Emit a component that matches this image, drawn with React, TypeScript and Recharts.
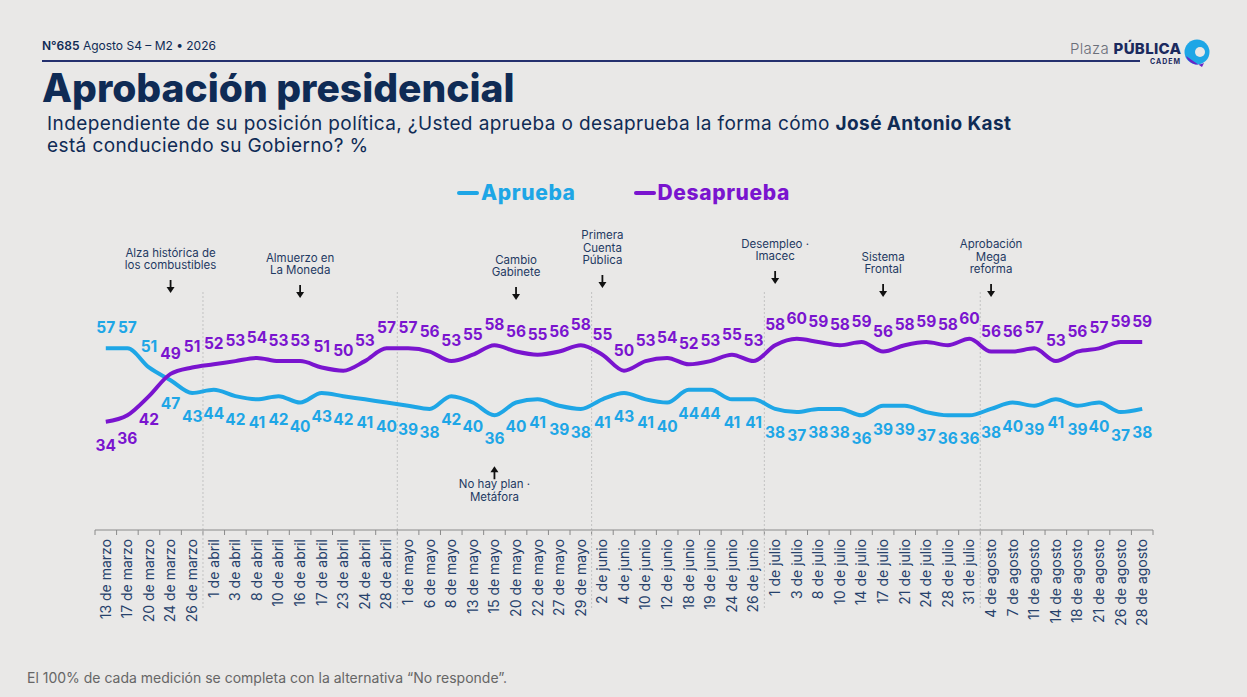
import React from 'react'
import { LineChart, Line, XAxis, YAxis, ReferenceLine, ReferenceDot, LabelList } from 'recharts'

const dates = [
  '13 de marzo', '17 de marzo', '20 de marzo', '24 de marzo', '26 de marzo',
  '1 de abril', '3 de abril', '8 de abril', '10 de abril', '16 de abril', '17 de abril', '23 de abril', '24 de abril', '28 de abril',
  '1 de mayo', '6 de mayo', '8 de mayo', '13 de mayo', '15 de mayo', '20 de mayo', '22 de mayo', '27 de mayo', '29 de mayo',
  '2 de junio', '4 de junio', '10 de junio', '12 de junio', '18 de junio', '19 de junio', '24 de junio', '26 de junio',
  '1 de julio', '3 de julio', '8 de julio', '10 de julio', '14 de julio', '17 de julio', '21 de julio', '24 de julio', '28 de julio', '31 de julio',
  '4 de agosto', '7 de agosto', '11 de agosto', '14 de agosto', '18 de agosto', '21 de agosto', '26 de agosto', '28 de agosto',
]

const aprueba = [
  57, 57, 51, 47, 43,
  44, 42, 41, 42, 40, 43, 42, 41, 40,
  39, 38, 42, 40, 36, 40, 41, 39, 38,
  41, 43, 41, 40, 44, 44, 41, 41,
  38, 37, 38, 38, 36, 39, 39, 37, 36, 36,
  38, 40, 39, 41, 39, 40, 37, 38,
]

const desaprueba = [
  34, 36, 42, 49, 51,
  52, 53, 54, 53, 53, 51, 50, 53, 57,
  57, 56, 53, 55, 58, 56, 55, 56, 58,
  55, 50, 53, 54, 52, 53, 55, 53,
  58, 60, 59, 58, 59, 56, 58, 59, 58, 60,
  56, 56, 57, 53, 56, 57, 59, 59,
]

// events marked above the lines (dy = nudge of the arrow tip in px)
const events = [
  { date: '24 de marzo', lines: ['Alza histórica de', 'los combustibles'], dy: 2 },
  { date: '16 de abril', lines: ['Almuerzo en', 'La Moneda'], dy: 7 },
  { date: '20 de mayo', lines: ['Cambio', 'Gabinete'], dy: 9 },
  { date: '2 de junio', lines: ['Primera', 'Cuenta', 'Pública'], dy: -3 },
  { date: '1 de julio', lines: ['Desempleo ·', 'Imacec'], dy: -7 },
  { date: '17 de julio', lines: ['Sistema', 'Frontal'], dy: 6 },
  { date: '4 de agosto', lines: ['Aprobación', 'Mega', 'reforma'], dy: 6 },
]

const eventBelow = { date: '15 de mayo', lines: ['No hay plan ·', 'Metáfora'] }

const data = dates.map((d, i) => ({ date: d, aprueba: aprueba[i], desaprueba: desaprueba[i] }))

const month = (d: string) => d.split(' de ')[1]
const monthStarts = dates.filter((d, i) => i > 0 && month(d) !== month(dates[i - 1]))

const BLUE = '#1ea6e6'
const PURPLE = '#7a14cf'
const NAVY = '#0f2b55'
const FONT = 'Inter, "Noto Sans", sans-serif'

const W = 1247
const H = 697
const M = { top: 291, right: 94, left: 95, bottom: 47 }
const AXIS_H = 120
const BAND = (W - M.left - M.right) / dates.length

function DateTick(props: any) {
  const { x, y, payload } = props
  const i = payload.index ?? props.index
  const half = payload.offset || BAND / 2
  const axisY = y - 8
  const isMonthStart = i > 0 && monthStarts.includes(payload.value)
  return (
    <g>
      <line x1={x - half} x2={x - half} y1={axisY} y2={axisY + 5} stroke="#8a8a8a" strokeWidth={1} />
      {i === dates.length - 1 && (
        <line x1={x + half} x2={x + half} y1={axisY} y2={axisY + 5} stroke="#8a8a8a" strokeWidth={1} />
      )}
      {isMonthStart && (
        <line x1={x - half} x2={x - half} y1={axisY} y2={axisY + 78} stroke="#c2c2c2" strokeDasharray="2 2" />
      )}
      <text
        x={x}
        y={y + 1}
        transform={`rotate(-90, ${x}, ${y + 1})`}
        textAnchor="end"
        dy="0.35em"
        fontSize={14}
        fontFamily={FONT}
        fill="#26416b"
      >
        {payload.value}
      </text>
    </g>
  )
}

const makeValueLabel = (color: string, aboveFirst: boolean) => (props: any) => {
  const { x, y, value, index } = props
  const above = index < 3 ? aboveFirst : !aboveFirst
  const ty = above ? y - 15 : y + 29
  return (
    <text x={x} y={ty} textAnchor="middle" fontSize={15.5} fontWeight={700} fontFamily={FONT} fill={color}>
      {value}
    </text>
  )
}

function Arrow({ x, tip, up }: { x: number; tip: number; up?: boolean }) {
  const s = up ? 1 : -1
  return (
    <g>
      <line x1={x} x2={x} y1={tip + s * 13} y2={tip + s * 5} stroke="#111" strokeWidth={1.8} />
      <path d={`M${x - 4},${tip + s * 6} L${x + 4},${tip + s * 6} L${x},${tip} Z`} fill="#111" />
    </g>
  )
}

const eventLabel = (lines: string[], dy: number) => (props: any) => {
  const vb = props.viewBox || {}
  const cx = vb.x + (vb.width || 0) / 2
  const tip = vb.y + (vb.height || 0) / 2 + dy
  const top = tip - 24 - (lines.length - 1) * 12.5
  return (
    <g>
      {lines.map((l, k) => (
        <text key={k} x={cx} y={top + k * 12.5} textAnchor="middle" fontSize={11.5} fontFamily={FONT} fill="#1f3a63">
          {l}
        </text>
      ))}
      <Arrow x={cx} tip={tip} />
    </g>
  )
}

const belowLabel = (lines: string[]) => (props: any) => {
  const vb = props.viewBox || {}
  const cx = vb.x + (vb.width || 0) / 2
  const tip = vb.y + (vb.height || 0) / 2
  return (
    <g>
      <Arrow x={cx} tip={tip} up />
      {lines.map((l, k) => (
        <text key={k} x={cx} y={tip + 22 + k * 12.5} textAnchor="middle" fontSize={11.5} fontFamily={FONT} fill="#1f3a63">
          {l}
        </text>
      ))}
    </g>
  )
}

function Logo() {
  return (
    <svg width={30} height={30} viewBox="0 0 30 30" style={{ position: 'absolute', left: 1182, top: 37 }}>
      <circle cx={15} cy={15} r={12.5} fill={BLUE} />
      <path d="M4,19 A12.5,12.5 0 0 0 22,26 L20,30 Q14,26 4,19 Z" fill="#6a22c6" />
      <circle cx={18} cy={15} r={5} fill="#e9e8e7" />
    </svg>
  )
}

export default function App() {
  return (
    <div style={{ position: 'absolute', left: 0, top: 0, width: W, height: H, background: '#e9e8e7', fontFamily: FONT, overflow: 'hidden' }}>
      <div style={{ position: 'absolute', left: 42, top: 38, fontSize: 12, color: NAVY }}>
        <b style={{ fontWeight: 600 }}>N°685</b> Agosto S4 – M2 • 2026
      </div>
      <div style={{ position: 'absolute', left: 42, top: 60, width: 1098, height: 1.5, background: '#24306e' }} />
      <div style={{ position: 'absolute', left: 1070, top: 39, fontSize: 15, color: '#6b6f7a', letterSpacing: 0.3 }}>
        <span style={{ fontWeight: 300 }}>Plaza</span>{' '}
        <span style={{ fontWeight: 800, color: '#1b2a5e' }}>PÚBLICA</span>
      </div>
      <div style={{ position: 'absolute', left: 1150, top: 57, fontSize: 7, fontWeight: 700, color: '#1b2a5e', letterSpacing: 1 }}>CADEM</div>
      <Logo />
      <div style={{ position: 'absolute', left: 42, top: 64, fontSize: 39, fontWeight: 800, color: NAVY, letterSpacing: 0 }}>
        Aprobación presidencial
      </div>
      <div style={{ position: 'absolute', left: 47, top: 113, fontSize: 19, color: NAVY, lineHeight: '22px', letterSpacing: 0.4 }}>
        Independiente de su posición política, ¿Usted aprueba o desaprueba la forma cómo <b style={{ fontWeight: 700 }}>José Antonio Kast</b>
        <br />
        está conduciendo su Gobierno? %
      </div>
      <div style={{ position: 'absolute', left: 0, top: 180, width: W, display: 'flex', justifyContent: 'center', gap: 58, fontSize: 21, fontWeight: 800, letterSpacing: 0.6 }}>
        <span style={{ color: BLUE, display: 'flex', alignItems: 'center' }}>
          <span style={{ display: 'inline-block', width: 22, height: 4, background: BLUE, borderRadius: 2, marginRight: 2 }} />
          Aprueba
        </span>
        <span style={{ color: PURPLE, display: 'flex', alignItems: 'center' }}>
          <span style={{ display: 'inline-block', width: 22, height: 4, background: PURPLE, borderRadius: 2, marginRight: 2 }} />
          Desaprueba
        </span>
      </div>
      <div style={{ position: 'absolute', left: 27, top: 669, fontSize: 14, color: '#666' }}>
        El 100% de cada medición se completa con la alternativa “No responde”.
      </div>
      <div style={{ position: 'absolute', left: 0, top: 0 }}>
        <LineChart width={W} height={H} data={data} margin={M}>
          <XAxis
            dataKey="date"
            scale="band"
            interval={0}
            height={AXIS_H}
            tickSize={5}
            tickMargin={3}
            tickLine={false}
            axisLine={{ stroke: '#8a8a8a' }}
            tick={<DateTick />}
          />
          <YAxis hide domain={[0, 75]} />
          {monthStarts.map((d) => (
            <ReferenceLine key={d} x={d} position="start" stroke="#c2c2c2" strokeDasharray="2 2" ifOverflow="visible" />
          ))}
          <Line
            type="monotone"
            dataKey="aprueba"
            stroke={BLUE}
            strokeWidth={4}
            dot={false}
            activeDot={false}
            isAnimationActive={false}
          >
            <LabelList dataKey="aprueba" content={makeValueLabel(BLUE, true)} />
          </Line>
          <Line
            type="monotone"
            dataKey="desaprueba"
            stroke={PURPLE}
            strokeWidth={4}
            dot={false}
            activeDot={false}
            isAnimationActive={false}
          >
            <LabelList dataKey="desaprueba" content={makeValueLabel(PURPLE, false)} />
          </Line>
          {events.map((e) => (
            <ReferenceDot
              key={e.date}
              x={e.date}
              y={75}
              r={0}
              fill="none"
              stroke="none"
              ifOverflow="visible"
              label={eventLabel(e.lines, e.dy)}
            />
          ))}
          <ReferenceDot
            x={eventBelow.date}
            y={20}
            r={0}
            fill="none"
            stroke="none"
            ifOverflow="visible"
            label={belowLabel(eventBelow.lines)}
          />
        </LineChart>
      </div>
    </div>
  )
}
